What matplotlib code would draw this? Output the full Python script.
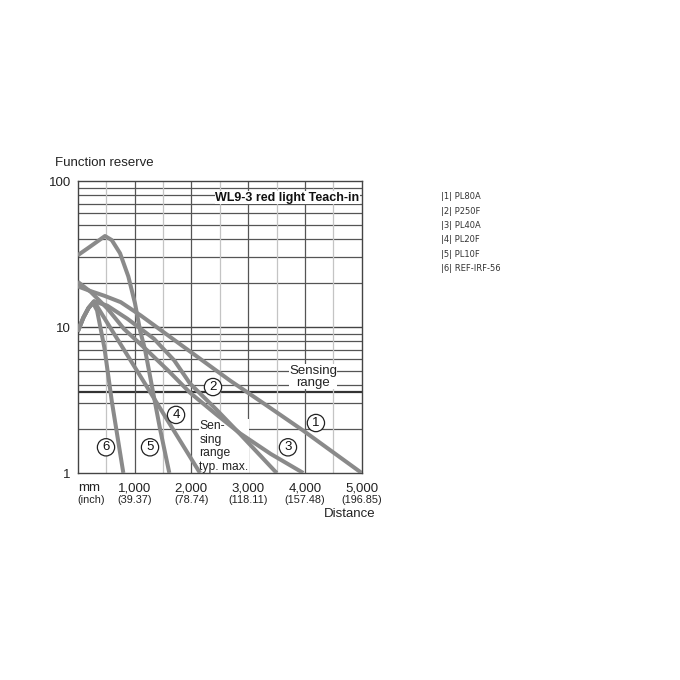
import numpy as np
import matplotlib
matplotlib.use("Agg")
from matplotlib import pyplot as plt

plt.rcParams['font.family'] = ['Liberation Sans', 'DejaVu Sans']

# distance in mm, function reserve
c1_x = [0, 229, 463, 757, 1109, 1343, 2000, 2681, 3300, 3972, 5000]
c1_y = [19.0, 17.6, 16.4, 14.8, 12.0, 10.3, 6.7, 4.3, 2.95, 1.95, 1.0]

c2_x = [0, 100, 190, 287, 521, 873, 1343, 1700, 1977, 2450, 2857, 3503]
c2_y = [9.3, 11.6, 13.5, 15.0, 14.0, 11.4, 8.3, 5.9, 4.1, 2.7, 1.85, 1.0]

c3_x = [0, 229, 521, 815, 1215, 1600, 1977, 2450, 2857, 3400, 3972]
c3_y = [20.4, 17.4, 13.4, 9.7, 6.96, 5.0, 3.55, 2.5, 1.87, 1.35, 1.0]

c4_x = [0, 100, 190, 287, 500, 775, 1200, 1700, 2153]
c4_y = [9.3, 11.6, 13.5, 15.0, 11.0, 7.4, 4.0, 1.93, 1.0]

c5_x = [0, 217, 480, 599, 745, 891, 1009, 1097, 1185, 1303, 1450, 1613]
c5_y = [31, 35.5, 42, 39.4, 32, 22.2, 14.5, 9.5, 7.0, 4.0, 2.0, 1.0]

c6_x = [0, 100, 190, 270, 340, 470, 600, 803]
c6_y = [9.3, 11.6, 13.5, 14.6, 13.0, 7.2, 3.1, 1.0]

curves = [(c1_x, c1_y), (c2_x, c2_y), (c3_x, c3_y),
          (c4_x, c4_y), (c5_x, c5_y), (c6_x, c6_y)]

# circled number labels (mm, reserve)
label_nums = ['1', '2', '3', '4', '5', '6']
label_x = [4194, 2382, 3702, 1731, 1273, 498]
label_y = [2.2, 3.88, 1.5, 2.5, 1.5, 1.5]

legend_items = ['|1| PL80A', '|2| P250F', '|3| PL40A',
                '|4| PL20F', '|5| PL10F', '|6| REF-IRF-56']

x_ticks = [1000, 2000, 3000, 4000, 5000]
x_tick_mm = ['1,000', '2,000', '3,000', '4,000', '5,000']
x_tick_inch = ['(39.37)', '(78.74)', '(118.11)', '(157.48)', '(196.85)']
y_ticks = [1, 10, 100]
y_tick_labels = ['1', '10', '100']

sensing_line = 3.6

fig = plt.figure(figsize=(6.8, 6.8), dpi=100)
ax = fig.add_axes([0.1143, 0.3044, 0.4176, 0.4294])
ax.set_yscale('log')
ax.set_xlim(0, 5000)
ax.set_ylim(1, 100)

# grid
for dec in [1, 10]:
    for m in range(2, 10):
        ax.axhline(dec * m, color='#555555', lw=0.9, zorder=1)
ax.axhline(10, color='#444444', lw=1.0, zorder=1)
ax.axhline(sensing_line, color='#333333', lw=1.6, zorder=1)
for xv in range(500, 5000, 1000):
    ax.axvline(xv, color='#c4c4c4', lw=0.9, zorder=1)
for xv in range(1000, 5000, 1000):
    ax.axvline(xv, color='#555555', lw=0.9, zorder=1)

for s in ax.spines.values():
    s.set_color('#444444')
    s.set_linewidth(1.0)

ax.set_xticks([])
ax.set_yticks(y_ticks)
ax.set_yticklabels(y_tick_labels, fontsize=9.5, color='#222222')
ax.minorticks_off()
ax.tick_params(axis='y', length=0, pad=5)

for xs, ys in curves:
    ax.plot(xs, ys, color='#8a8a8a', lw=2.9, solid_capstyle='butt', zorder=3)

for n, lx, ly in zip(label_nums, label_x, label_y):
    ax.text(lx, ly, n, fontsize=9.5, ha='center', va='center', color='#111111', zorder=5,
            bbox=dict(boxstyle='circle,pad=0.2', fc='white', ec='#222222', lw=0.9))

# texts inside the plot
ax.text(3690, 77.0, 'WL9-3 red light Teach-in', fontsize=9, fontweight='bold',
        ha='center', va='center', color='#111111', zorder=2.5,
        bbox=dict(boxstyle='square,pad=0.05', fc='white', ec='none'))
ax.text(4143, 4.55, 'Sensing\nrange', fontsize=9.5, ha='center', va='center',
        color='#222222', linespacing=1.05, zorder=2.5,
        bbox=dict(boxstyle='square,pad=0.02', fc='white', ec='none'))
ax.text(2140, 1.52, 'Sen-\nsing\nrange\ntyp. max.', fontsize=8.7, ha='left', va='center',
        color='#222222', linespacing=1.2, zorder=2.5,
        bbox=dict(boxstyle='square,pad=0.03', fc='white', ec='none'))

# x axis labels
xt = ax.get_xaxis_transform()
ax.text(0, -0.052, 'mm', transform=xt, fontsize=9.5, ha='left', va='center', color='#222222')
ax.text(0, -0.092, '(inch)', transform=xt, fontsize=7.8, ha='left', va='center', color='#222222')
for xv, a, b in zip(x_ticks, x_tick_mm, x_tick_inch):
    ax.text(xv, -0.052, a, transform=xt, fontsize=9.5, ha='center', va='center', color='#222222')
    ax.text(xv, -0.092, b, transform=xt, fontsize=7.8, ha='center', va='center', color='#222222')
ax.text(1.05, -0.141, 'Distance', transform=ax.transAxes, fontsize=9.5, ha='right',
        va='center', color='#222222')
ax.text(-0.08, 1.062, 'Function reserve', transform=ax.transAxes, fontsize=9.5,
        ha='left', va='center', color='#222222')

# legend list on the right
for i, item in enumerate(legend_items):
    fig.text(0.6485, 0.7103 - i * 0.021, item, fontsize=6, family='DejaVu Sans',
             ha='left', va='center', color='#333333')

fig.savefig('out.png', dpi=100, facecolor='white')
